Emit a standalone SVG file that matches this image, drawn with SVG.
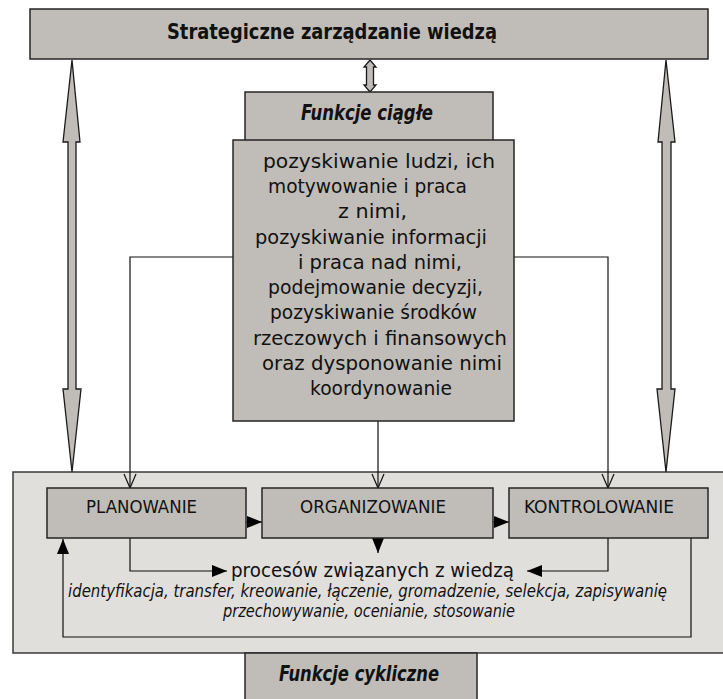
<svg xmlns="http://www.w3.org/2000/svg" width="723" height="699" viewBox="0 0 723 699">
<style>
.box{fill:#c0bdb8;stroke:#262626;stroke-width:1.5}
.cont{fill:#e1dfdc;stroke:#3a3a3a;stroke-width:1.5}
.big{fill:#c0bdb8;stroke:#1a1a1a;stroke-width:1.3;stroke-linejoin:miter}
.ln{fill:none;stroke:#111;stroke-width:1.2}
.t{font-family:"DejaVu Sans","Liberation Sans",sans-serif;fill:#111}
.hd{font-family:"Liberation Sans Narrow","DejaVu Sans Condensed","Liberation Sans",sans-serif;font-weight:bold;fill:#111}
.lab{font-family:"Liberation Sans Narrow","DejaVu Sans Condensed","Liberation Sans",sans-serif;font-size:17px;fill:#111}
.it{font-family:"Liberation Sans Narrow","DejaVu Sans Condensed","Liberation Sans",sans-serif;font-style:italic;font-size:18px;fill:#111}
.body{font-size:19.5px}
</style>
<defs>
<marker id="open" markerUnits="userSpaceOnUse" viewBox="0 0 16 14" markerWidth="16" markerHeight="14" refX="15" refY="7" orient="auto">
<path d="M1,1 L15,7 L1,13" fill="none" stroke="#111" stroke-width="1.2"/>
</marker>
<marker id="fill" markerUnits="userSpaceOnUse" viewBox="0 0 15 12" markerWidth="15" markerHeight="12" refX="15" refY="6" orient="auto">
<path d="M0,0 L15,6 L0,12 Z" fill="#000"/>
</marker>
</defs>

<g id="container">
<rect class="cont" x="13" y="472" width="712" height="181"/>
</g>

<g id="connectors">
<polygon class="big" points="72,60 80,142 76,142 76,389 81,389 72,472 63,389 68,389 68,142 63,142"/>
<polygon class="big" points="666,60 675,142 671,142 671,389 675,389 666,472 657,389 662,389 662,142 658,142"/>
<polygon class="big" points="370,60 376,67 373.5,67 373.5,85 376,85 370,92 364,85 366.5,85 366.5,67 364,67"/>
<polyline class="ln" points="233,257 130,257 130,488" marker-end="url(#open)"/>
<line class="ln" x1="378" y1="421" x2="378" y2="488" marker-end="url(#open)"/>
<polyline class="ln" points="514,257 608,257 608,488" marker-end="url(#open)"/>
<line class="ln" x1="246" y1="522" x2="262" y2="522" marker-end="url(#fill)"/>
<line class="ln" x1="493" y1="522" x2="509" y2="522" marker-end="url(#fill)"/>
<line class="ln" x1="378" y1="538" x2="378" y2="553" marker-end="url(#fill)"/>
<polyline class="ln" points="130,538 130,571 227,571" marker-end="url(#fill)"/>
<polyline class="ln" points="608,538 608,571 527,571" marker-end="url(#fill)"/>
<polyline class="ln" points="691,538 691,637 63,637 63,539" marker-end="url(#fill)"/>
</g>

<g id="strategiczne">
<rect class="box" x="30" y="9" width="678" height="50"/>
<text class="hd" x="167" y="39" font-size="22" textLength="330" lengthAdjust="spacingAndGlyphs">Strategiczne zarządzanie wiedzą</text>
</g>

<g id="funkcje-ciagle">
<rect class="box" x="245" y="92" width="248" height="49"/>
<text class="hd" x="301" y="120" font-size="21" font-style="italic" textLength="132" lengthAdjust="spacingAndGlyphs">Funkcje ciągłe</text>
</g>

<g id="funkcje-ciagle-opis">
<rect class="box" x="233" y="140" width="281" height="281"/>
<g class="t body">
<text x="263" y="168" textLength="232" lengthAdjust="spacingAndGlyphs">pozyskiwanie ludzi, ich</text>
<text x="268" y="193" textLength="199" lengthAdjust="spacingAndGlyphs">motywowanie i praca</text>
<text x="338" y="218" textLength="69" lengthAdjust="spacingAndGlyphs">z nimi,</text>
<text x="255" y="243.5" textLength="232" lengthAdjust="spacingAndGlyphs">pozyskiwanie informacji</text>
<text x="298" y="268.5" textLength="164" lengthAdjust="spacingAndGlyphs">i praca nad nimi,</text>
<text x="268" y="294" textLength="215" lengthAdjust="spacingAndGlyphs">podejmowanie decyzji,</text>
<text x="270" y="319" textLength="207" lengthAdjust="spacingAndGlyphs">pozyskiwanie środków</text>
<text x="253" y="344.5" textLength="254" lengthAdjust="spacingAndGlyphs">rzeczowych i finansowych</text>
<text x="262" y="369.5" textLength="240" lengthAdjust="spacingAndGlyphs">oraz dysponowanie nimi</text>
<text x="310" y="395" textLength="142" lengthAdjust="spacingAndGlyphs">koordynowanie</text>
</g>
</g>

<g id="planowanie">
<rect class="box" x="47" y="488" width="199" height="50"/>
<text class="lab" x="86" y="513" textLength="111" lengthAdjust="spacingAndGlyphs">PLANOWANIE</text>
</g>

<g id="organizowanie">
<rect class="box" x="262" y="488" width="231" height="50"/>
<text class="lab" x="300" y="513" textLength="146" lengthAdjust="spacingAndGlyphs">ORGANIZOWANIE</text>
</g>

<g id="kontrolowanie">
<rect class="box" x="509" y="488" width="199" height="50"/>
<text class="lab" x="524" y="513" textLength="150" lengthAdjust="spacingAndGlyphs">KONTROLOWANIE</text>
</g>

<g id="procesy">
<text class="t" x="231" y="577" font-size="20" textLength="283" lengthAdjust="spacingAndGlyphs">procesów związanych z wiedzą</text>
<text class="it" x="68" y="597" textLength="599" lengthAdjust="spacingAndGlyphs">identyfikacja, transfer, kreowanie, łączenie, gromadzenie, selekcja, zapisywanię</text>
<text class="it" x="223" y="617" textLength="292" lengthAdjust="spacingAndGlyphs">przechowywanie, ocenianie, stosowanie</text>
</g>

<g id="funkcje-cykliczne">
<rect class="box" x="245" y="653" width="232" height="50"/>
<text class="hd" x="279" y="681" font-size="21" font-style="italic" textLength="160" lengthAdjust="spacingAndGlyphs">Funkcje cykliczne</text>
</g>
</svg>
